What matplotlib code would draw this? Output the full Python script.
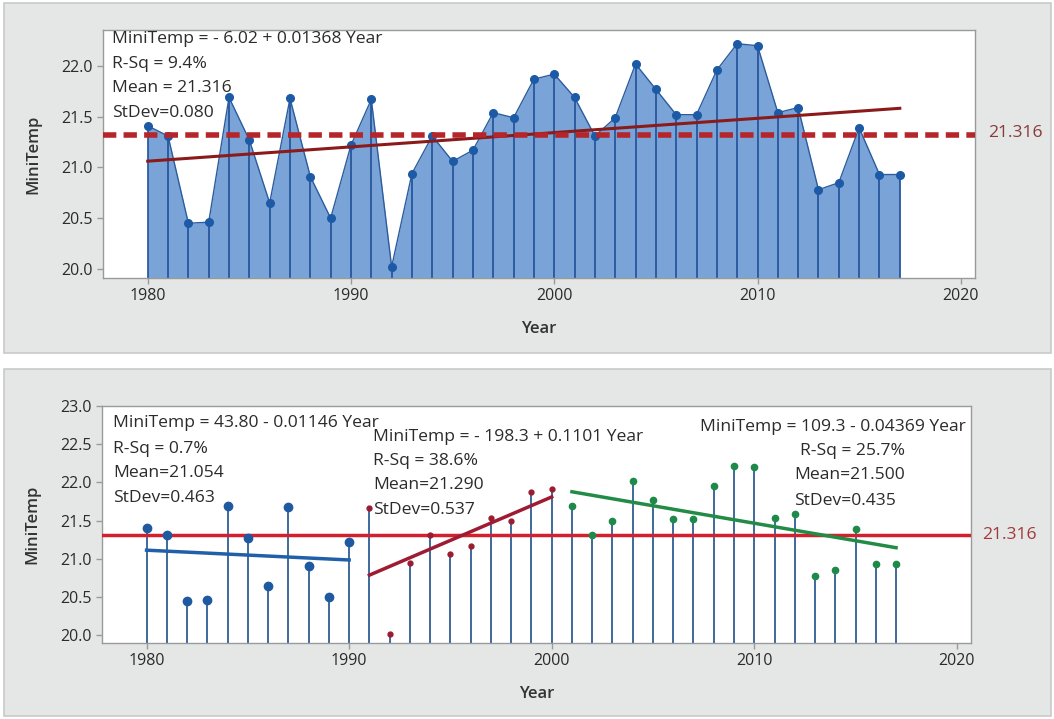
import matplotlib
matplotlib.use('Agg')
import matplotlib.pyplot as plt
from matplotlib.patches import Rectangle
import numpy as np

years = list(range(1980, 2018))
mini_temp = [21.41, 21.31, 20.45, 20.46, 21.69, 21.27, 20.65, 21.68, 20.91, 20.50,
             21.22, 21.67, 20.02, 20.94, 21.31, 21.06, 21.17, 21.54, 21.49, 21.87,
             21.92, 21.69, 21.31, 21.49, 22.02, 21.77, 21.52, 21.52, 21.96, 22.22,
             22.20, 21.54, 21.59, 20.78, 20.85, 21.39, 20.93, 20.93]
mean_value = 21.316

# segments used for the lower chart (first year, last year)
segments = [(1980, 1990), (1991, 2000), (2001, 2017)]

top_notes = ['MiniTemp = - 6.02 + 0.01368 Year', 'R-Sq = 9.4%', 'Mean = 21.316', 'StDev=0.080']
seg_notes = [
    ['MiniTemp = 43.80 - 0.01146 Year', 'R-Sq = 0.7%', 'Mean=21.054', 'StDev=0.463'],
    ['MiniTemp = - 198.3 + 0.1101 Year', 'R-Sq = 38.6%', 'Mean=21.290', 'StDev=0.537'],
    ['MiniTemp = 109.3 - 0.04369 Year', 'R-Sq = 25.7%', 'Mean=21.500', 'StDev=0.435'],
]

plt.rcParams['font.family'] = ['Open Sans', 'DejaVu Sans']

W, H = 1054, 719
fig = plt.figure(figsize=(W / 100, H / 100), dpi=100)
fig.patch.set_facecolor('white')

def px(x, y):
    return x / W, 1 - y / H

# gray panel boxes
for y0, y1 in [(3, 353), (369, 716)]:
    fig.patches.append(Rectangle(px(4, y1), 1047 / W, (y1 - y0) / H, transform=fig.transFigure,
                                 facecolor='#E5E6E6', edgecolor='#C9CACA', lw=1.2, zorder=0))

x = np.array(years)
y = np.array(mini_temp)
fs = 12.6

def style_axes(ax):
    ax.set_zorder(2)
    ax.set_facecolor('white')
    for s in ax.spines.values():
        s.set_color('#9A9A9A')
        s.set_linewidth(1)
    ax.tick_params(colors='#9A9A9A', labelcolor='#2B2B2B', labelsize=11.5, length=4, width=1)
    ax.set_xlim(1977.8, 2020.7)
    ax.set_xticks([1980, 1990, 2000, 2010, 2020])
    ax.set_xlabel('Year', fontsize=12, fontweight='semibold', color='#333333', labelpad=12)
    ax.set_ylabel('MiniTemp', fontsize=12, fontweight='semibold', color='#333333', labelpad=14)
    ax.yaxis.set_major_formatter(matplotlib.ticker.FormatStrFormatter('%.1f'))

# ---- top: area graph with trend and mean ----
ax1 = fig.add_axes([103 / W, 1 - 278 / H, 872 / W, 248 / H])
ybot1 = 19.91
ax1.set_ylim(ybot1, 22.355)
ax1.set_yticks([20.0, 20.5, 21.0, 21.5, 22.0])
ax1.fill_between(x, y, ybot1, color='#7AA4D8', lw=0, zorder=1)
ax1.vlines(x, ybot1, y, color='#1F4F96', lw=1.2, zorder=2)
ax1.plot(x, y, color='#2B5C9E', lw=1, zorder=3)
ax1.plot(x, y, 'o', color='#1D5AA6', ms=5.5, zorder=4)
b, a = np.polyfit(x, y, 1)
ax1.plot(x, a + b * x, color='#8B1A1A', lw=2.2, zorder=5)
ax1.axhline(mean_value, color='#B5262B', lw=4, dashes=(2.4, 1.3), zorder=6)
style_axes(ax1)
for i, t in enumerate(top_notes):
    fx, fy = px(112, 38.7 + i * 24.8)
    fig.text(fx, fy, t, fontsize=fs, color='#2B2B2B', va='center', ha='left', zorder=10)
fx, fy = px(988, 133)
fig.text(fx, fy, '21.316', fontsize=fs, color='#8B3A3A', va='center', ha='left')

# ---- bottom: project lines with segment trends ----
ax2 = fig.add_axes([102 / W, 1 - 643 / H, 869 / W, 237 / H])
ybot2 = 19.9
ax2.set_ylim(ybot2, 23.0)
ax2.set_yticks([20.0, 20.5, 21.0, 21.5, 22.0, 22.5, 23.0])
ax2.vlines(x, ybot2, y, color='#2F5E95', lw=1.3, zorder=2)
ax2.axhline(mean_value, color='#D3202E', lw=2.5, zorder=3)
mark_colors = ['#1F5AA0', '#9B1B30', '#1E8A4A']
mark_sizes = [6, 3.5, 4.5]
line_colors = ['#2060A8', '#9E1B32', '#228B45']
for (y0, y1), mc, ms, lc in zip(segments, mark_colors, mark_sizes, line_colors):
    m = (x >= y0) & (x <= y1)
    ax2.plot(x[m], y[m], 'o', color=mc, ms=ms, zorder=4)
    b, a = np.polyfit(x[m], y[m], 1)
    ax2.plot(x[m], a + b * x[m], color=lc, lw=2.5, zorder=5)
style_axes(ax2)

note_pos = [
    [(113, 423), (113, 449), (113, 473), (113, 498)],
    [(373, 437), (373, 461), (373, 485), (373, 510)],
    [(700, 427), (800, 451), (794, 475), (794, 501)],
]
for notes, pos in zip(seg_notes, note_pos):
    for t, (tx, ty) in zip(notes, pos):
        fx, fy = px(tx, ty)
        fig.text(fx, fy, t, fontsize=fs, color='#2B2B2B', va='center', ha='left', zorder=10)
fx, fy = px(982, 535)
fig.text(fx, fy, '21.316', fontsize=fs, color='#A33A3A', va='center', ha='left')

fig.savefig('out.png', dpi=100)
